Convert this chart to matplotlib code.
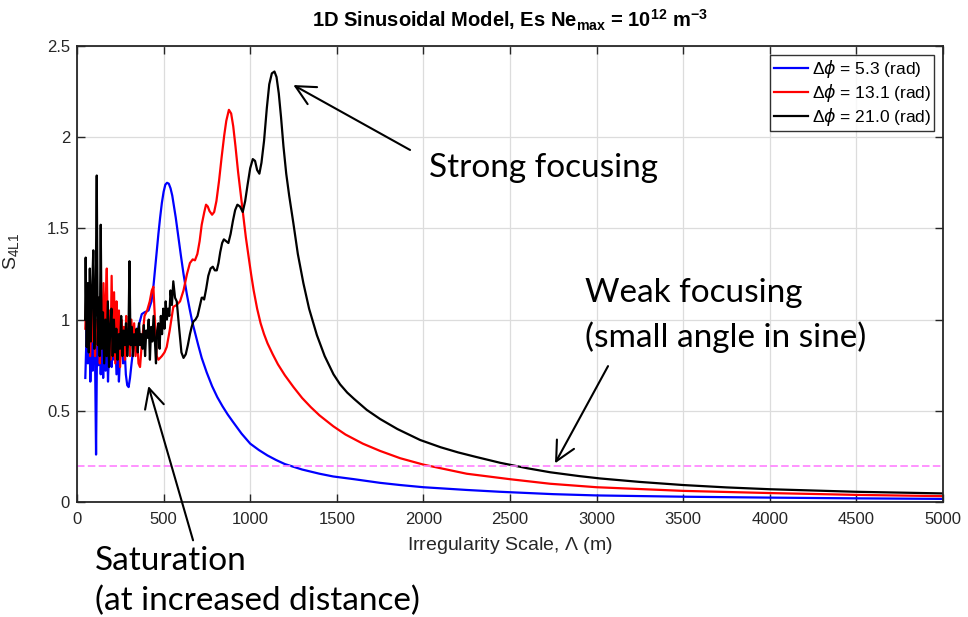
import matplotlib
matplotlib.use('Agg')
import matplotlib.pyplot as plt
from matplotlib.ticker import FormatStrFormatter

plt.rcParams['font.family'] = ['Liberation Sans', 'DejaVu Sans']
plt.rcParams['mathtext.default'] = 'regular'

# --- data (Irregularity scale in m, S4 index) ---
blue_x = [48, 56, 63, 70, 77, 84, 91, 98, 104, 110,
          116, 123, 130, 137, 144, 151, 158, 165, 172, 179,
          186, 193, 200, 207, 214, 221, 228, 235, 242, 250,
          258, 266, 274, 282, 290, 298, 306, 315, 325, 335,
          345, 360, 374, 390, 413, 430, 441, 450, 460, 470,
          480, 490, 500, 510, 520, 530, 540, 550, 560, 570,
          580, 590, 600, 615, 634, 650, 665, 681, 700, 720,
          749, 780, 810, 840, 870, 900, 950, 1000, 1050, 1100,
          1150, 1200, 1300, 1400, 1479, 1600, 1750, 1866, 2000, 2250,
          2443, 2750, 3000, 3500, 4000, 4500, 5000]
blue_y = [0.68, 0.95, 0.76, 1.04, 0.66, 0.93, 0.72, 1.00, 0.82, 0.26,
          0.90, 0.75, 1.08, 0.70, 0.96, 0.68, 0.88, 0.72, 0.98, 0.66,
          0.86, 0.92, 0.74, 1.00, 0.78, 0.94, 0.70, 0.90, 0.66, 0.82,
          0.95, 0.76, 0.86, 0.70, 0.64, 0.63, 0.68, 0.76, 0.84, 0.88,
          0.92, 0.98, 1.03, 1.04, 1.05, 1.10, 1.18, 1.27, 1.37, 1.47,
          1.56, 1.64, 1.70, 1.74, 1.75, 1.745, 1.72, 1.68, 1.62, 1.56,
          1.49, 1.42, 1.35, 1.25, 1.14, 1.06, 0.99, 0.93, 0.86, 0.79,
          0.71, 0.635, 0.575, 0.525, 0.48, 0.44, 0.375, 0.32, 0.285, 0.255,
          0.23, 0.208, 0.178, 0.155, 0.14, 0.125, 0.105, 0.093, 0.081, 0.066,
          0.056, 0.043, 0.036, 0.029, 0.024, 0.020, 0.017]

red_x = [48, 55, 62, 69, 76, 83, 90, 97, 104, 111,
         118, 125, 132, 139, 146, 153, 160, 166, 172, 179,
         186, 193, 200, 207, 214, 221, 228, 235, 242, 249,
         256, 263, 270, 277, 284, 291, 298, 306, 314, 322,
         330, 338, 346, 355, 364, 375, 390, 405, 420, 432,
         441, 450, 460, 470, 490, 505, 518, 535, 556, 575,
         595, 615, 635, 652, 668, 681, 695, 708, 720, 735,
         745, 755, 765, 780, 792, 805, 820, 835, 850, 862,
         877, 890, 902, 915, 930, 945, 960, 975, 990, 1005,
         1020, 1040, 1060, 1080, 1100, 1130, 1160, 1200, 1250, 1300,
         1350, 1400, 1480, 1550, 1650, 1750, 1866, 2000, 2250, 2500,
         2732, 3000, 3500, 4000, 4500, 5000]
red_y = [0.95, 1.18, 0.85, 1.10, 0.80, 1.05, 0.88, 1.14, 0.80, 1.00,
         0.86, 1.12, 0.76, 1.04, 0.90, 1.20, 0.84, 1.10, 1.28, 0.82,
         1.05, 0.78, 1.24, 0.80, 1.15, 0.76, 1.10, 0.88, 1.05, 0.74,
         1.00, 0.82, 0.96, 0.78, 1.02, 0.85, 0.95, 0.80, 1.00, 0.86,
         0.98, 0.80, 0.92, 0.76, 0.74, 0.88, 1.02, 1.05, 1.10, 1.16,
         1.18, 1.00, 0.80, 0.78, 0.80, 0.82, 0.85, 0.94, 1.07, 1.08,
         1.10, 1.16, 1.25, 1.31, 1.33, 1.325, 1.36, 1.43, 1.52, 1.59,
         1.63, 1.62, 1.595, 1.575, 1.59, 1.65, 1.76, 1.89, 2.01, 2.09,
         2.15, 2.13, 2.06, 1.95, 1.81, 1.69, 1.57, 1.45, 1.35, 1.25,
         1.16, 1.06, 0.98, 0.92, 0.87, 0.81, 0.755, 0.695, 0.63, 0.57,
         0.52, 0.475, 0.415, 0.37, 0.32, 0.28, 0.24, 0.205, 0.155, 0.125,
         0.10, 0.081, 0.061, 0.049, 0.039, 0.032]

black_x = [47, 50, 56, 62, 68, 74, 80, 87, 94, 100,
           107, 114, 120, 126, 131, 137, 143, 150, 157, 164,
           171, 178, 185, 192, 199, 206, 213, 220, 227, 234,
           241, 248, 255, 262, 269, 276, 283, 290, 297, 303,
           309, 316, 323, 330, 337, 344, 351, 358, 365, 372,
           379, 386, 393, 400, 407, 414, 421, 428, 435, 442,
           449, 456, 463, 470, 477, 484, 491, 498, 505, 512,
           519, 526, 533, 540, 548, 556, 566, 576, 590, 603,
           615, 628, 640, 652, 662, 672, 684, 696, 708, 720,
           727, 734, 746, 758, 771, 784, 796, 807, 817, 827,
           838, 848, 861, 874, 887, 900, 913, 926, 941, 957,
           971, 985, 1000, 1015, 1028, 1040, 1053, 1065, 1080, 1096,
           1110, 1125, 1140, 1152, 1165, 1178, 1192, 1208, 1225, 1249,
           1275, 1307, 1340, 1385, 1430, 1481, 1519, 1560, 1600, 1673,
           1750, 1850, 1981, 2100, 2200, 2300, 2443, 2600, 2732, 2900,
           3021, 3250, 3500, 3750, 4000, 4500, 5000]
black_y = [1.00, 1.34, 0.85, 1.20, 0.82, 1.28, 0.88, 1.15, 1.38, 0.84,
           1.05, 1.79, 0.86, 1.12, 0.80, 1.52, 0.84, 1.04, 0.76, 1.00,
           0.80, 1.10, 0.74, 0.96, 1.06, 0.80, 1.00, 0.82, 0.95, 0.78,
           0.92, 0.84, 1.02, 0.80, 0.94, 0.86, 0.98, 0.80, 0.92, 1.32,
           0.86, 0.96, 0.80, 0.92, 0.86, 0.95, 0.82, 0.98, 0.86, 0.92,
           0.84, 0.97, 0.80, 0.94, 0.90, 1.00, 0.78, 0.96, 0.88, 1.02,
           0.90, 0.76, 0.94, 0.98, 0.84, 1.02, 0.92, 1.06, 0.95, 1.10,
           1.00, 1.06, 1.02, 1.16, 1.08, 1.21, 1.12, 1.10, 0.95, 0.82,
           0.79, 0.81, 0.86, 0.92, 0.96, 0.99, 1.00, 1.02, 1.07, 1.12,
           1.12, 1.11, 1.17, 1.24, 1.28, 1.29, 1.27, 1.27, 1.31, 1.37,
           1.42, 1.44, 1.43, 1.42, 1.47, 1.54, 1.60, 1.63, 1.62, 1.59,
           1.65, 1.74, 1.83, 1.88, 1.87, 1.82, 1.80, 1.86, 1.98, 2.16,
           2.29, 2.35, 2.36, 2.33, 2.24, 2.11, 1.95, 1.80, 1.68, 1.53,
           1.36, 1.20, 1.06, 0.915, 0.80, 0.70, 0.645, 0.60, 0.565, 0.505,
           0.455, 0.40, 0.34, 0.30, 0.272, 0.248, 0.215, 0.185, 0.163, 0.142,
           0.129, 0.11, 0.093, 0.08, 0.07, 0.056, 0.047]

labels = [r'$\Delta\mathit{\phi}$ = 5.3 (rad)',
          r'$\Delta\mathit{\phi}$ = 13.1 (rad)',
          r'$\Delta\mathit{\phi}$ = 21.0 (rad)']
threshold = 0.2
x_ticks = list(range(0, 5001, 500))
y_ticks = [0, 0.5, 1, 1.5, 2, 2.5]

W, H = 968, 617


def fx(px):
    return px / W


def fy(py):
    return 1 - py / H


fig = plt.figure(figsize=(W / 100, H / 100), dpi=100)
ax = fig.add_axes([fx(77), fy(502), (943 - 77) / W, (502 - 46) / H])

ax.plot(blue_x, blue_y, color='#0000ff', lw=1.6, label=labels[0])
ax.plot(red_x, red_y, color='#ff0000', lw=1.6, label=labels[1])
ax.plot(black_x, black_y, color='black', lw=1.6, label=labels[2])
ax.axhline(threshold, color='#ff80ff', lw=1.2, ls=(0, (4.5, 2)))

ax.set_xlim(0, 5000)
ax.set_ylim(0, 2.5)
ax.set_xticks(x_ticks)
ax.set_yticks(y_ticks)
ax.yaxis.set_major_formatter(FormatStrFormatter('%g'))
ax.grid(True, color='#dcdcdc', lw=0.9)
ax.set_axisbelow(True)
ax.tick_params(direction='in', top=True, right=True, length=6, width=1,
               colors='#262626', labelsize=12)
ax.tick_params(axis='x', pad=7)
ax.tick_params(axis='y', pad=5)
for s in ax.spines.values():
    s.set_linewidth(1.3)
    s.set_color('#262626')

ax.set_xlabel(r'Irregularity Scale, $\Lambda$ (m)', fontsize=14,
              color='#262626', labelpad=6)
ax.set_ylabel(r'S$_{4L1}$', fontsize=14, color='#262626')
ax.yaxis.set_label_coords(-0.065, 0.55)
ax.set_title(r'1D Sinusoidal Model, Es Ne$_{max}$ = 10$^{12}$ m$^{-3}$',
             fontsize=14.5, fontweight='bold', pad=13)

leg = ax.legend(loc='upper right', fontsize=12.5, frameon=True, fancybox=False,
                edgecolor='black', handlelength=2.0, handletextpad=0.2,
                labelspacing=0.1, borderpad=0.2, borderaxespad=0.5)
leg.get_frame().set_linewidth(1.0)

# annotations
arrow = dict(arrowstyle='->,head_length=0.7,head_width=0.35', lw=1.5,
             color='black', shrinkA=0, shrinkB=0, mutation_scale=20)
ax.annotate('', xy=(1249, 2.286), xytext=(1923, 1.93), arrowprops=arrow,
            annotation_clip=False)
ax.annotate('', xy=(2760, 0.212), xytext=(3066, 0.745), arrowprops=arrow,
            annotation_clip=False)
ax.annotate('', xy=(412, 0.636), xytext=(670, -0.21), arrowprops=arrow,
            annotation_clip=False)

note = dict(family='Lato', fontsize=24, color='black', va='baseline')
fig.text(fx(429), fy(177), 'Strong focusing', **note)
fig.text(fx(585), fy(302), 'Weak focusing', **note)
fig.text(fx(585), fy(347), '(small angle in sine)', **note)
fig.text(fx(95), fy(570), 'Saturation', **note)
fig.text(fx(95), fy(610), '(at increased distance)', **note)

fig.savefig('out.png', dpi=100)
